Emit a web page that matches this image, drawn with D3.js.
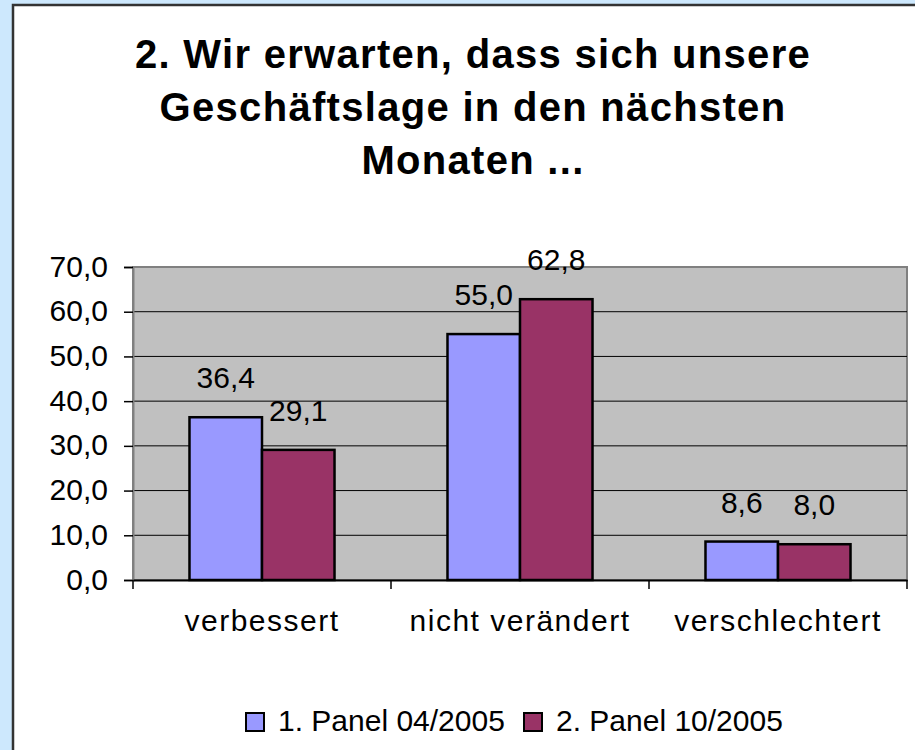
<!DOCTYPE html>
<html><head><meta charset="utf-8">
<script src="https://cdn.jsdelivr.net/npm/d3@7"></script>
<style>
html,body{margin:0;padding:0;background:#cde8fd;}
svg{display:block;font-family:"Liberation Sans",Arial,sans-serif;}
</style></head>
<body><svg id="c" width="915" height="750"></svg>
<script>
const titleLines = ["2. Wir erwarten, dass sich unsere", "Geschäftslage in den nächsten", "Monaten ..."];
const categories = ["verbessert", "nicht verändert", "verschlechtert"];
const seriesNames = ["1. Panel 04/2005", "2. Panel 10/2005"];
const panel1 = [36.4, 55.0, 8.6];
const panel2 = [29.1, 62.8, 8.0];
const yTicks = [0, 10, 20, 30, 40, 50, 60, 70];
const colors = ["#9999ff", "#993366"];

const fmt = v => v.toFixed(1).replace(".", ",");
const svg = d3.select("#c");

// chart frame
svg.append("rect").attr("x", 13).attr("y", 5).attr("width", 930).attr("height", 780)
  .attr("fill", "#fff").attr("stroke", "#333").attr("stroke-width", 2.5);

// title
svg.append("text").attr("text-anchor", "middle").attr("font-weight", "bold")
  .attr("font-size", 40).attr("letter-spacing", 1.3)
  .selectAll("tspan").data(titleLines).join("tspan")
  .attr("x", 473).attr("y", (d, i) => 68 + i * 53).text(d => d);

const x0 = 133, x1 = 907, yTop = 267, yBot = 580;
const x = d3.scaleBand().domain(categories).range([x0, x1]).padding(0);
const xs = d3.scaleBand().domain([0, 1]).range([0, x.bandwidth()]).paddingInner(0).paddingOuter(0.779);
const y = d3.scaleLinear().domain([0, 70]).range([yBot, yTop]);

// plot area
svg.append("rect").attr("x", x0).attr("y", yTop).attr("width", x1 - x0).attr("height", yBot - yTop)
  .attr("fill", "#c0c0c0").attr("stroke", "#808080").attr("stroke-width", 2);

// gridlines
svg.append("g").selectAll("line").data(yTicks.filter(t => t > 0 && t < 70)).join("line")
  .attr("x1", x0).attr("x2", x1).attr("y1", d => y(d)).attr("y2", d => y(d))
  .attr("stroke", "#000").attr("stroke-width", 1);

// y axis
const yAxis = svg.append("g").attr("transform", `translate(${x0},0)`)
  .call(d3.axisLeft(y).tickValues(yTicks).tickFormat(fmt).tickSize(9).tickPadding(16));
yAxis.select(".domain").attr("stroke", "#808080").attr("stroke-width", 2);
yAxis.selectAll(".tick line").attr("stroke", "#000").attr("stroke-width", 1.5);
yAxis.selectAll(".tick text").attr("font-size", 30).attr("fill", "#000")
  .attr("font-family", "'Liberation Sans',Arial,sans-serif").attr("dy", "0.3em");

// bars
const data = categories.map((c, i) => ({c, vals: [panel1[i], panel2[i]]}));
const g = svg.append("g").selectAll("g").data(data).join("g")
  .attr("transform", d => `translate(${x(d.c)},0)`);
g.selectAll("rect").data(d => d.vals.map((v, k) => ({v, k}))).join("rect")
  .attr("x", d => xs(d.k)).attr("width", xs.bandwidth())
  .attr("y", d => y(d.v)).attr("height", d => y(0) - y(d.v))
  .attr("fill", d => colors[d.k]).attr("stroke", "#000").attr("stroke-width", 2.5);
g.selectAll("text").data(d => d.vals.map((v, k) => ({v, k}))).join("text")
  .attr("x", d => xs(d.k) + xs.bandwidth() / 2).attr("y", d => y(d.v) - 29)
  .attr("text-anchor", "middle").attr("font-size", 30).text(d => fmt(d.v));

// x axis
const xAxis = svg.append("g").attr("transform", `translate(0,${yBot})`)
  .call(d3.axisBottom(x).tickSize(0).tickPadding(30));
xAxis.select(".domain").attr("stroke", "#000").attr("stroke-width", 2);
xAxis.selectAll(".tick text").attr("font-size", 30).attr("fill", "#000")
  .attr("letter-spacing", 1.5)
  .attr("font-family", "'Liberation Sans',Arial,sans-serif").attr("dy", "0.71em");
svg.append("g").selectAll("line").data(categories.concat(["end"])).join("line")
  .attr("x1", (d, i) => i < 3 ? x(d) : x1).attr("x2", (d, i) => i < 3 ? x(d) : x1)
  .attr("y1", yBot).attr("y2", yBot + 9).attr("stroke", "#000").attr("stroke-width", 1.5);

// legend
const legX = [246, 524];
const leg = svg.append("g").selectAll("g").data(seriesNames).join("g")
  .attr("transform", (d, i) => `translate(${legX[i]},713)`);
leg.append("rect").attr("width", 18).attr("height", 18)
  .attr("fill", (d, i) => colors[i]).attr("stroke", "#000").attr("stroke-width", 2);
leg.append("text").attr("x", 32).attr("y", 18).attr("font-size", 30).text(d => d);
</script></body></html>
